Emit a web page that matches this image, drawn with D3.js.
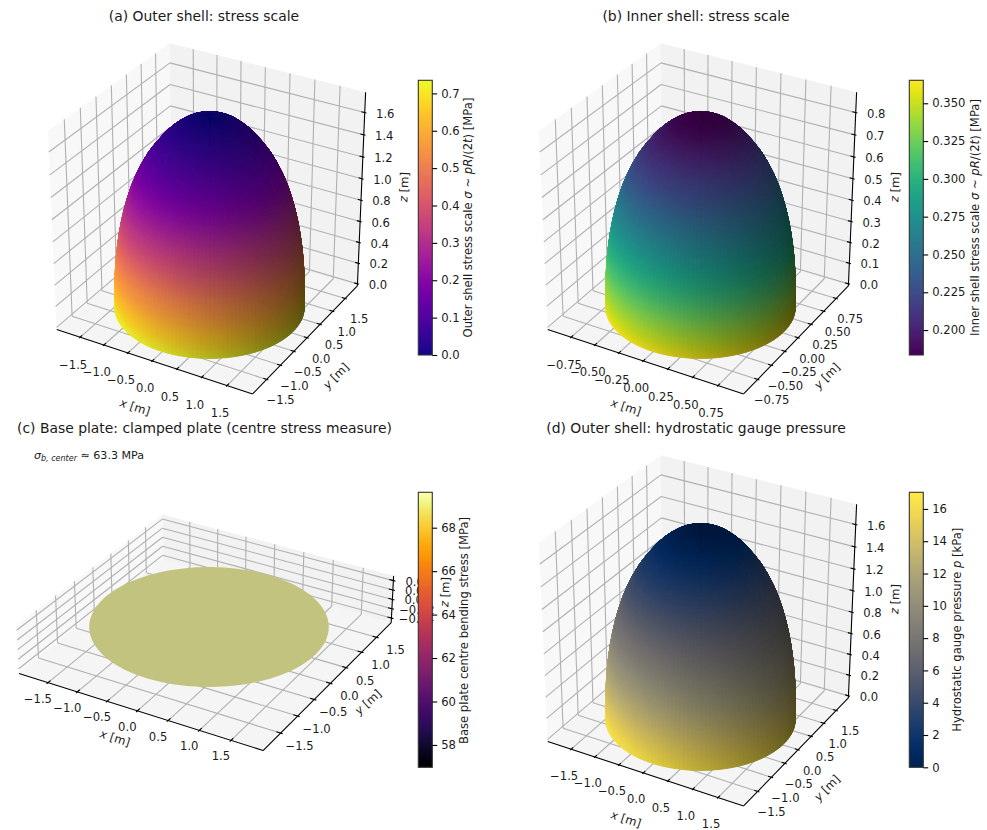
<!DOCTYPE html>
<html>
<head>
<meta charset="utf-8">
<script src="https://d3js.org/d3.v7.min.js"></script>
<style>
  body { margin: 0; background: #fff; }
  svg { display: block; }
  text { font-family: "DejaVu Sans", sans-serif; fill: #1a1a1a; }
</style>
</head>
<body>
<script>
// shell profile (metres)
var shellZ = [0, .116, .232, .349, .462, .566, .672, .775, .875, .973, 1.07, 1.163, 1.254, 1.346, 1.434, 1.528, 1.576, 1.624, 1.654, 1.682, 1.701, 1.716, 1.725, 1.73];
var shellR = [1.72, 1.717, 1.708, 1.693, 1.672, 1.645, 1.611, 1.569, 1.52, 1.462, 1.395, 1.317, 1.225, 1.117, .987, .826, .726, .607, .52, .413, .321, .227, .131, 0];

// colour values per profile level
var outerStress = [.73, .675, .625, .572, .527, .48, .428, .378, .336, .292, .25, .21, .175, .138, .104, .072, .058, .042, .032, .023, .016, .01, .005, 0];
var innerStress = [.363, .35, .339, .327, .315, .304, .293, .282, .272, .262, .252, .242, .232, .223, .214, .204, .199, .194, .19, .188, .186, .185, .184, .183];
var pressure = [16.9, 15.77, 14.63, 13.49, 12.39, 11.37, 10.33, 9.33, 8.35, 7.39, 6.45, 5.54, 4.65, 3.75, 2.89, 1.97, 1.5, 1.04, .74, .47, .28, .14, .05, 0];
var innerScale = 0.5;

var plateRadius = 1.745;
var plateValue = 63.3;

var ticksOuterXY = [-1.5, -1, -.5, 0, .5, 1, 1.5];
var ticksInnerXY = [-.75, -.5, -.25, 0, .25, .5, .75];
var ticksOuterZ = [0, .2, .4, .6, .8, 1, 1.2, 1.4, 1.6];
var ticksInnerZ = [0, .1, .2, .3, .4, .5, .6, .7, .8];
var ticksPlateZ = [-.04, -.02, 0, .02, .04];

var cbarTicksA = [0, .1, .2, .3, .4, .5, .6, .7];
var cbarTicksB = [.2, .225, .25, .275, .3, .325, .35];
var cbarTicksC = [58, 60, 62, 64, 66, 68];
var cbarTicksD = [0, 2, 4, 6, 8, 10, 12, 14, 16];

var W = 987, H = 830, fs = 11.6;
var svg = d3.select("body").append("svg").attr("width", W).attr("height", H);

var minus = function(s) { return s.replace("-", "\u2212"); };

function panel(o) {
  var g = svg.append("g");

  // mplot3d style projection, elev 30 azim -60
  var norm = Math.hypot(o.aspect[0], o.aspect[1], o.aspect[2]);
  var k = 1.9057 / norm;
  var hx = o.aspect[0] * k / 2, hy = o.aspect[1] * k / 2, hz = o.aspect[2] * k / 2;
  var sx = d3.scaleLinear().domain(o.xDom).range([-hx, hx]);
  var sy = d3.scaleLinear().domain(o.xDom).range([-hy, hy]);
  var sz = d3.scaleLinear().domain(o.zDom).range([-hz, hz]);
  var px = d3.scaleLinear().domain([-.1, .1]).range([o.cx - 205.5, o.cx + 205.5]);
  var py = d3.scaleLinear().domain([-.1, .1]).range([o.cy + 205.5, o.cy - 205.5]);
  var dist = 10;
  var wv = [.433013, -.75, .5], uv = [.866025, .5, 0], vv = [-.25, .433013, .866025];
  function depth(x, y, z) { return sx(x) * wv[0] + sy(y) * wv[1] + sz(z) * wv[2]; }
  function proj(x, y, z) {
    var a = sx(x), b = sy(y), c = sz(z);
    var d = dist - (a * wv[0] + b * wv[1] + c * wv[2]);
    return [px((a * uv[0] + b * uv[1]) / d), py((a * vv[0] + b * vv[1] + c * vv[2]) / d)];
  }
  var line = d3.line();
  function poly(pts) { return line(pts.map(function(p) { return proj(p[0], p[1], p[2]); })) + "Z"; }
  function seg(a, b) { return line([proj(a[0], a[1], a[2]), proj(b[0], b[1], b[2])]); }

  var x0 = o.xDom[0], x1 = o.xDom[1], z0 = o.zDom[0], z1 = o.zDom[1];

  // panes
  g.append("path").attr("d", poly([[x0, x0, z0], [x0, x1, z0], [x0, x1, z1], [x0, x0, z1]])).attr("fill", "#f2f2f2").attr("fill-opacity", .5);
  g.append("path").attr("d", poly([[x0, x1, z0], [x1, x1, z0], [x1, x1, z1], [x0, x1, z1]])).attr("fill", "#e6e6e6").attr("fill-opacity", .5);
  g.append("path").attr("d", poly([[x0, x0, z0], [x1, x0, z0], [x1, x1, z0], [x0, x1, z0]])).attr("fill", "#ececec").attr("fill-opacity", .5);

  // grid
  var grid = [];
  o.xyTicks.forEach(function(t) {
    grid.push(seg([t, x0, z0], [t, x1, z0]), seg([t, x1, z0], [t, x1, z1]));
    grid.push(seg([x0, t, z0], [x1, t, z0]), seg([x0, t, z0], [x0, t, z1]));
  });
  o.zTicks.forEach(function(t) {
    grid.push(seg([x0, x0, t], [x0, x1, t]), seg([x0, x1, t], [x1, x1, t]));
  });
  g.selectAll("path.grid").data(grid).join("path").attr("class", "grid")
    .attr("d", function(d) { return d; }).attr("fill", "none").attr("stroke", "#b0b0b0").attr("stroke-width", 1.1);

  // axis lines and ticks
  var dl = (x1 - x0) / 12;
  var ax = [seg([x0, x0, z0], [x1, x0, z0]), seg([x1, x0, z0], [x1, x1, z0]), seg([x1, x1, z0], [x1, x1, z1])];
  o.xyTicks.forEach(function(t) {
    ax.push(seg([t, x0 + .2 * dl, z0], [t, x0 - .1 * dl, z0]));
    ax.push(seg([x1 - .2 * dl, t, z0], [x1 + .1 * dl, t, z0]));
  });
  o.zTicks.forEach(function(t) {
    ax.push(seg([x1 - .2 * dl, x1, t], [x1 + .1 * dl, x1, t]));
  });
  g.selectAll("path.ax").data(ax).join("path").attr("class", "ax")
    .attr("d", function(d) { return d; }).attr("fill", "none").attr("stroke", "#000").attr("stroke-width", 1.1);

  // tick labels
  var fmtT = function(t) { return minus(d3.format(o.xyFmt)(t)); };
  g.selectAll("text.xt").data(o.xyTicks).join("text").attr("class", "xt").attr("font-size", fs).attr("text-anchor", "middle")
    .attr("x", function(t) { return proj(t, x0, z0)[0] + o.xOff[0]; })
    .attr("y", function(t) { return proj(t, x0, z0)[1] + o.xOff[1] + 4; })
    .text(fmtT);
  g.selectAll("text.yt").data(o.xyTicks).join("text").attr("class", "yt").attr("font-size", fs).attr("text-anchor", "middle")
    .attr("x", function(t) { return proj(x1, t, z0)[0] + o.yOff[0]; })
    .attr("y", function(t) { return proj(x1, t, z0)[1] + o.yOff[1] + 4; })
    .text(fmtT);
  g.selectAll("text.zt").data(o.zTicks).join("text").attr("class", "zt").attr("font-size", fs).attr("text-anchor", "middle")
    .attr("x", function(t) { return proj(x1, x1, t)[0] + o.zOff[0]; })
    .attr("y", function(t) { return proj(x1, x1, t)[1] + o.zOff[1] + 4; })
    .text(function(t) { return minus(d3.format(o.zFmt)(t)); });

  // axis labels
  [["x", o.xLab], ["y", o.yLab], ["z", o.zLab]].forEach(function(l) {
    var t = g.append("text").attr("font-size", fs).attr("text-anchor", "middle")
      .attr("transform", "translate(" + (o.cx + l[1][0]) + "," + (o.cy + l[1][1]) + ") rotate(" + l[1][2] + ")")
      .attr("dy", 4);
    t.append("tspan").attr("font-style", "italic").text(l[0]);
    t.append("tspan").text(" [m]");
  });

  // surface facets, back to front
  if (o.profileZ) {
    var n = o.profileZ.length, idx = d3.range(n);
    var nr = [], nz = [];
    idx.forEach(function(i) {
      var a = Math.max(i - 1, 0), b = Math.min(i + 1, n - 1);
      var dr = o.profileR[b] - o.profileR[a], dh = o.profileZ[b] - o.profileZ[a];
      var m = Math.hypot(dr, dh);
      nr.push(i == n - 1 ? 0 : dh / m);
      nz.push(i == n - 1 ? 1 : -dr / m);
    });
    var rAt = d3.scaleLinear().domain(idx).range(o.profileR);
    var zAt = d3.scaleLinear().domain(idx).range(o.profileZ);
    var vAt = d3.scaleLinear().domain(idx).range(o.values);
    var nrAt = d3.scaleLinear().domain(idx).range(nr);
    var nzAt = d3.scaleLinear().domain(idx).range(nz);
    var col = d3.scaleSequential(o.cmap).domain(o.cDom);
    var sub = 6, nth = 144, facets = [];
    var L = [-.6667, -.6667, .3333];
    var pa = 2 * Math.PI / nth;
    for (var i = 0; i < (n - 1) * sub; i++) {
      var u0 = i / sub, u1 = (i + 1) / sub, um = (u0 + u1) / 2;
      for (var j = 0; j < nth; j++) {
        var t0 = j * pa, t1 = (j + 1) * pa, tm = (t0 + t1) / 2;
        var cx = Math.cos(tm), cy = Math.sin(tm);
        var N = [nrAt(um) * cx, nrAt(um) * cy, nzAt(um)];
        var vis = N[0] * wv[0] + N[1] * wv[1] + N[2] * wv[2];
        if (vis < -.15) continue;
        var s = N[0] * L[0] + N[1] * L[1] + N[2] * L[2];
        var mult = .3 + .7 * (s + 1) / 2;
        var c = d3.rgb(col(vAt(um)));
        var r0 = rAt(u0), r1 = rAt(u1), z_0 = zAt(u0), z_1 = zAt(u1);
        var fill = d3.rgb(c.r * mult, c.g * mult, c.b * mult).formatHex();
        facets.push({
          d: poly([[r0 * Math.cos(t0), r0 * Math.sin(t0), z_0], [r0 * Math.cos(t1), r0 * Math.sin(t1), z_0],
                   [r1 * Math.cos(t1), r1 * Math.sin(t1), z_1], [r1 * Math.cos(t0), r1 * Math.sin(t0), z_1]]),
          fill: fill,
          depth: depth(rAt(um) * cx, rAt(um) * cy, zAt(um))
        });
      }
    }
    facets.sort(function(a, b) { return a.depth - b.depth; });
    g.append("g").selectAll("path").data(facets).join("path")
      .attr("d", function(d) { return d.d; }).attr("fill", function(d) { return d.fill; })
      .attr("stroke", function(d) { return d.fill; }).attr("stroke-width", 1).attr("stroke-linejoin", "round");
  }
  if (o.plate) {
    var circ = d3.range(0, 181).map(function(a) {
      var th = a * Math.PI / 90;
      return [o.plate * Math.cos(th), o.plate * Math.sin(th), 0];
    });
    g.append("path").attr("d", poly(circ)).attr("fill", o.plateFill);
  }

  // title
  g.append("text").attr("x", o.title[1]).attr("y", o.title[2]).attr("text-anchor", "middle").attr("font-size", 13.9).text(o.title[0]);

  // colorbar
  var cb = o.cb, ys = d3.scaleLinear().domain(o.cDom).range([cb.y1, cb.y0]);
  var cs = d3.scaleSequential(o.cmap).domain(o.cDom);
  var grad = d3.range(0, 129).map(function(i) { return o.cDom[0] + (o.cDom[1] - o.cDom[0]) * i / 128; });
  var gid = "grad" + o.id;
  svg.append("defs").append("linearGradient").attr("id", gid).attr("x1", 0).attr("y1", 1).attr("x2", 0).attr("y2", 0)
    .selectAll("stop").data(grad).join("stop")
    .attr("offset", function(d, i) { return i / 128; }).attr("stop-color", function(d) { return cs(d); });
  var cg = svg.append("g");
  cg.append("rect").attr("x", cb.x).attr("y", cb.y0).attr("width", cb.w).attr("height", cb.y1 - cb.y0)
    .attr("fill", "url(#" + gid + ")").attr("stroke", "#333").attr("stroke-width", 1.1);
  var axis = d3.axisRight(ys).tickValues(o.cbTicks).tickSize(4.9).tickPadding(4).tickFormat(d3.format(o.cbFmt));
  var ag = cg.append("g").attr("transform", "translate(" + (cb.x + cb.w) + ",0)").call(axis);
  ag.select(".domain").remove();
  ag.selectAll("line").attr("stroke", "#000").attr("stroke-width", 1.1);
  ag.selectAll("text").attr("font-size", fs).attr("font-family", null).attr("fill", "#1a1a1a");
  var lab = cg.append("text").attr("font-size", fs).attr("text-anchor", "middle")
    .attr("transform", "translate(" + cb.labX + "," + cb.labY + ") rotate(-90)").attr("dy", 4);
  o.cbLabel.forEach(function(p) {
    lab.append("tspan").attr("font-style", p[1] ? "italic" : "normal").text(p[0]);
  });
}

panel({
  id: "a", cx: 209.6, cy: 212, aspect: [1, 1, 1], xDom: [-2, 2], zDom: [-.02, 1.78],
  xyTicks: ticksOuterXY, zTicks: ticksOuterZ, xyFmt: ".1f", zFmt: ".1f",
  xOff: [-7, 27.5], yOff: [14, 21], zOff: [20.5, 1],
  xLab: [-74.6, 195, 18], yLab: [126.4, 164, -45], zLab: [194.4, -25, -87.6],
  profileZ: shellZ, profileR: shellR, values: outerStress, cmap: d3.interpolatePlasma, cDom: [0, .735],
  title: ["(a) Outer shell: stress scale", 204, 21],
  cb: { x: 418.3, w: 14, y0: 80.3, y1: 355, labX: 468, labY: 217.5 }, cbTicks: cbarTicksA, cbFmt: ".1f",
  cbLabel: [["Outer shell stress scale "], ["\u03c3", 1], [" ~ "], ["pR", 1], ["/(2"], ["t", 1], [") [MPa]"]]
});

panel({
  id: "b", cx: 700.6, cy: 212, aspect: [1, 1, 1], xDom: [-1, 1], zDom: [-.01, .89],
  xyTicks: ticksInnerXY, zTicks: ticksInnerZ, xyFmt: ".2f", zFmt: ".1f",
  xOff: [-7, 27.5], yOff: [14, 21], zOff: [20.5, 1],
  xLab: [-74.6, 195, 18], yLab: [126.4, 164, -45], zLab: [194.4, -25, -87.6],
  profileZ: shellZ.map(function(z) { return z * innerScale; }), profileR: shellR.map(function(r) { return r * innerScale; }),
  values: innerStress, cmap: d3.interpolateViridis, cDom: [.1835, .3652],
  title: ["(b) Inner shell: stress scale", 696, 21],
  cb: { x: 909.3, w: 14, y0: 80.3, y1: 355, labX: 975, labY: 217.5 }, cbTicks: cbarTicksB, cbFmt: ".3f",
  cbLabel: [["Inner shell stress scale "], ["\u03c3", 1], [" ~ "], ["pR", 1], ["/(2"], ["t", 1], [") [MPa]"]]
});

panel({
  id: "c", cx: 209, cy: 624, aspect: [1, 1, .2], xDom: [-2, 2], zDom: [-.05, .05],
  xyTicks: ticksOuterXY, zTicks: ticksPlateZ, xyFmt: ".1f", zFmt: ".2f",
  xOff: [-10, 16], yOff: [19, 13], zOff: [25, 1],
  xLab: [-94, 114, 18], yLab: [159, 78, -42], zLab: [236, -32, -87.6],
  plate: plateRadius, plateFill: "#c2c37f", cmap: d3.interpolateInferno, cDom: [plateValue * .9, plateValue * 1.1],
  title: ["(c) Base plate: clamped plate (centre stress measure)", 204.5, 433],
  cb: { x: 418.3, w: 14, y0: 492.3, y1: 767.3, labX: 464, labY: 630.5 }, cbTicks: cbarTicksC, cbFmt: "d",
  cbLabel: [["Base plate centre bending stress [MPa]"]]
});

panel({
  id: "d", cx: 700.6, cy: 624, aspect: [1, 1, 1], xDom: [-2, 2], zDom: [-.02, 1.78],
  xyTicks: ticksOuterXY, zTicks: ticksOuterZ, xyFmt: ".1f", zFmt: ".1f",
  xOff: [-7, 26.5], yOff: [14, 21], zOff: [20.5, 1],
  xLab: [-74.6, 195, 18], yLab: [126.4, 164, -45], zLab: [194.4, -25, -87.6],
  profileZ: shellZ, profileR: shellR, values: pressure, cmap: d3.interpolateCividis, cDom: [0, 17.03],
  title: ["(d) Outer shell: hydrostatic gauge pressure", 696, 433],
  cb: { x: 909.3, w: 14, y0: 492.3, y1: 767.3, labX: 957, labY: 629.7 }, cbTicks: cbarTicksD, cbFmt: "d",
  cbLabel: [["Hydrostatic gauge pressure "], ["p", 1], [" [kPa]"]]
});

// annotation in panel c
var note = svg.append("text").attr("x", 34).attr("y", 459).attr("font-size", 11.1);
note.append("tspan").attr("font-style", "italic").text("\u03c3");
note.append("tspan").attr("font-style", "italic").attr("font-size", 8).attr("dy", 2).text("b, center");
note.append("tspan").attr("dy", -2).text(" \u2248 63.3 MPa");
</script>
</body>
</html>
